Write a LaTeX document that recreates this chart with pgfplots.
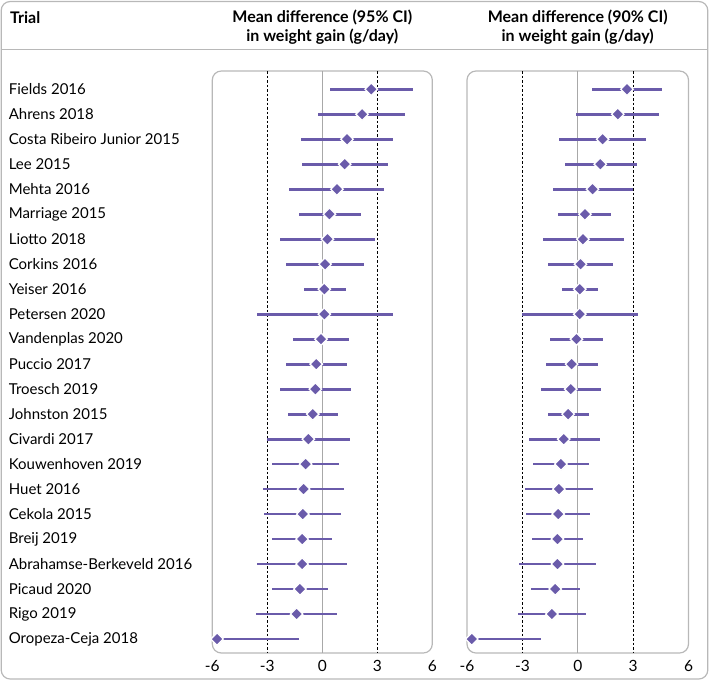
\documentclass[border=0pt]{standalone}
\usepackage{fontspec}
\setmainfont{Lato}
\usepackage{pgfplots}
\usepackage{pgfplotstable}
\pgfplotsset{compat=1.18}
\definecolor{fp}{HTML}{6A5BAA}
\definecolor{bordergray}{HTML}{B8B8B8}
\definecolor{zerogray}{HTML}{A8A8A8}

\pgfplotstableread{
row m lo95 hi95 lo90 hi90
1 2.67 0.40 4.93 0.79 4.56
2 2.17 -0.22 4.53 -0.09 4.41
3 1.35 -1.15 3.84 -1.01 3.71
4 1.22 -1.12 3.60 -0.71 3.20
5 0.80 -1.80 3.38 -1.34 3.02
6 0.39 -1.29 2.09 -1.05 1.82
7 0.28 -2.29 2.86 -1.87 2.49
8 0.15 -1.96 2.27 -1.59 1.93
9 0.11 -1.00 1.29 -0.83 1.08
10 0.11 -3.56 3.84 -3.01 3.25
11 -0.07 -1.58 1.44 -1.50 1.36
12 -0.33 -2.00 1.36 -1.70 1.08
13 -0.38 -2.31 1.57 -1.97 1.25
14 -0.52 -1.89 0.86 -1.63 0.61
15 -0.76 -3.03 1.53 -2.66 1.19
16 -0.91 -2.73 0.89 -2.44 0.63
17 -1.02 -3.22 1.18 -2.84 0.85
18 -1.06 -3.16 1.02 -2.79 0.69
19 -1.10 -2.74 0.55 -2.50 0.29
20 -1.10 -3.58 1.36 -3.20 0.98
21 -1.22 -2.73 0.33 -2.52 0.11
22 -1.40 -3.64 0.78 -3.24 0.45
23 -5.74 -5.74 -1.27 -5.74 -1.97
}\data

\pgfplotsset{forest/.style={
  scale only axis, width=220bp, height=582bp,
  xmin=-6, xmax=6, ymin=0.27, ymax=23.56, y dir=reverse,
  axis line style={draw=none}, clip=false,
  xtick={-6,-3,0,3,6}, xticklabels={-6,-3,0,3,6},
  major tick length=0pt,
  tick label style={font=\fontsize{15.5bp}{17bp}\selectfont},
  xticklabel style={yshift=-4bp},
  ytick=\empty,
  anchor=south west,
}}

\begin{document}
\begin{tikzpicture}
\useasboundingbox (0,0) rectangle (709bp,-682bp);
\draw[bordergray, line width=1.2bp, rounded corners=9bp] (1.2bp,-1.5bp) rectangle (707.8bp,-679bp);
\draw[bordergray, line width=1.2bp] (1.2bp,-49.5bp) -- (707.8bp,-49.5bp);
\node[anchor=west, font=\fontsize{16bp}{17bp}\selectfont\bfseries, inner sep=0pt] at (10bp,-18bp) {Trial};
\node[align=center, font=\fontsize{16bp}{19.5bp}\selectfont\bfseries, inner sep=0pt] at (322.3bp,-27bp) {Mean difference (95\% CI)\\in weight gain (g/day)};
\node[align=center, font=\fontsize{16bp}{19.5bp}\selectfont\bfseries, inner sep=0pt] at (577.7bp,-27bp) {Mean difference (90\% CI)\\in weight gain (g/day)};

% left panel
\begin{axis}[forest, at={(212.3bp,-653bp)},
  ytick={1,...,23},
  yticklabels={Fields 2016, Ahrens 2018, Costa Ribeiro Junior 2015, Lee 2015, Mehta 2016, Marriage 2015, Liotto 2018, Corkins 2016, Yeiser 2016, Petersen 2020, Vandenplas 2020, Puccio 2017, Troesch 2019, Johnston 2015, Civardi 2017, Kouwenhoven 2019, Huet 2016, Cekola 2015, Breij 2019, Abrahamse-Berkeveld 2016, Picaud 2020, Rigo 2019, Oropeza-Ceja 2018},
  yticklabel style={anchor=west, xshift=-207bp, font=\fontsize{15bp}{17bp}\selectfont},
]
\draw[bordergray, line width=1.2bp, rounded corners=9bp] (rel axis cs:0,0) rectangle (rel axis cs:1,1);
\draw[zerogray, line width=1bp] (axis cs:0,0.27) -- (axis cs:0,23.56);
\draw[black, line width=0.9bp, dash pattern=on 2.5bp off 2bp] (axis cs:-3,0.27) -- (axis cs:-3,23.56);
\draw[black, line width=0.9bp, dash pattern=on 2.5bp off 2bp] (axis cs:3,0.27) -- (axis cs:3,23.56);
\addplot[draw=none, mark=none, forget plot,
  error bars/.cd, x dir=both, x explicit, error mark=none,
  error bar style={draw=fp, solid, line width=2.8bp}]
  table[x=m, y=row, x error plus expr=\thisrow{hi95}-\thisrow{m}, x error minus expr=\thisrow{m}-\thisrow{lo95}] {\data};
\addplot[only marks, mark=square*, mark size=4.4bp,
  mark options={fill=fp, draw=white, line width=1.3bp, rotate=45}]
  table[x=m, y=row] {\data};
\end{axis}

% right panel
\begin{axis}[forest, at={(467bp,-653bp)}, width=221.5bp]
\draw[bordergray, line width=1.2bp, rounded corners=9bp] (rel axis cs:0,0) rectangle (rel axis cs:1,1);
\draw[zerogray, line width=1bp] (axis cs:0,0.27) -- (axis cs:0,23.56);
\draw[black, line width=0.9bp, dash pattern=on 2.5bp off 2bp] (axis cs:-3,0.27) -- (axis cs:-3,23.56);
\draw[black, line width=0.9bp, dash pattern=on 2.5bp off 2bp] (axis cs:3,0.27) -- (axis cs:3,23.56);
\addplot[draw=none, mark=none, forget plot,
  error bars/.cd, x dir=both, x explicit, error mark=none,
  error bar style={draw=fp, solid, line width=2.8bp}]
  table[x=m, y=row, x error plus expr=\thisrow{hi90}-\thisrow{m}, x error minus expr=\thisrow{m}-\thisrow{lo90}] {\data};
\addplot[only marks, mark=square*, mark size=4.4bp,
  mark options={fill=fp, draw=white, line width=1.3bp, rotate=45}]
  table[x=m, y=row] {\data};
\end{axis}
\end{tikzpicture}
\end{document}
